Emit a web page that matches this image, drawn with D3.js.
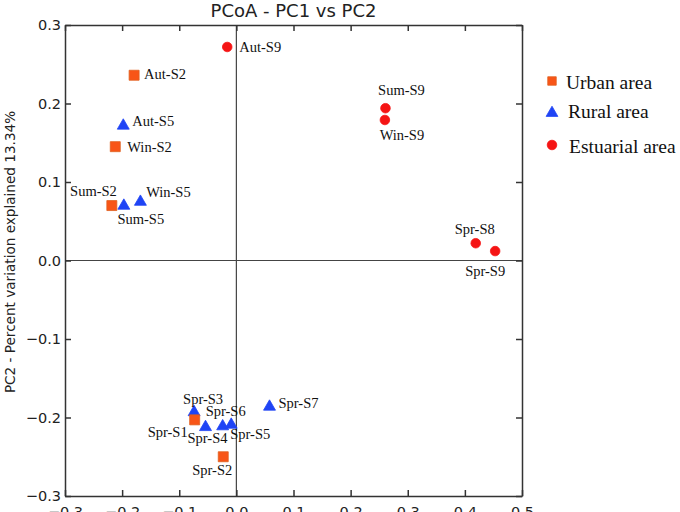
<!DOCTYPE html>
<html>
<head>
<meta charset="utf-8">
<script src="https://cdn.jsdelivr.net/npm/d3@7"></script>
<style>
  html, body { margin: 0; padding: 0; background: #fff; }
  svg { display: block; }
</style>
</head>
<body>
<div id="chart"></div>
<script>
// ---- data ----
const sampleNames = ["Aut-S9","Aut-S2","Aut-S5","Win-S2","Sum-S2","Sum-S5","Win-S5",
  "Sum-S9","Win-S9","Spr-S8","Spr-S9",
  "Spr-S3","Spr-S1","Spr-S4","Spr-S6","Spr-S5","Spr-S2","Spr-S7"];
const sampleGroups = ["Estuarial area","Urban area","Rural area","Urban area","Urban area","Rural area","Rural area",
  "Estuarial area","Estuarial area","Estuarial area","Estuarial area",
  "Rural area","Urban area","Rural area","Rural area","Rural area","Urban area","Rural area"];
const pc1Values = [-0.016,-0.179,-0.198,-0.212,-0.218,-0.197,-0.168,
  0.261,0.260,0.419,0.453,
  -0.074,-0.073,-0.054,-0.024,-0.009,-0.023,0.058];
const pc2Values = [0.272,0.236,0.173,0.145,0.070,0.071,0.076,
  0.194,0.179,0.022,0.012,
  -0.192,-0.203,-0.211,-0.210,-0.208,-0.250,-0.185];
const groupNames = ["Urban area","Rural area","Estuarial area"];
const xTicks = [-0.3,-0.2,-0.1,0.0,0.1,0.2,0.3,0.4,0.5];
const yTicks = [-0.3,-0.2,-0.1,0.0,0.1,0.2,0.3];
const titleText = "PCoA - PC1 vs PC2";
const yTitleText = "PC2 - Percent variation explained 13.34%";

// ---- label placement (layout, pixels relative to point) ----
const labelLayout = {
  "Aut-S9": [12, 0, "start"], "Aut-S2": [10, -1, "start"], "Aut-S5": [9, -4, "start"],
  "Win-S2": [12, 0, "start"], "Sum-S2": [5, -15, "end"], "Sum-S5": [17, 14, "middle"],
  "Win-S5": [28, -9, "middle"], "Sum-S9": [16, -18, "middle"], "Win-S9": [17, 15, "middle"],
  "Spr-S8": [-1, -14, "middle"], "Spr-S9": [-10, 20, "middle"], "Spr-S3": [9, -12, "middle"],
  "Spr-S1": [-7, 12, "end"], "Spr-S4": [2, 12, "middle"], "Spr-S6": [3, -14, "middle"],
  "Spr-S5": [-1, 10, "start"], "Spr-S2": [-11, 13, "middle"], "Spr-S7": [9, -3, "start"]
};

const W = 680, H = 512;
const svg = d3.select("#chart").append("svg").attr("width", W).attr("height", H);

const x = d3.scaleLinear().domain([-0.3, 0.5]).range([65, 522]);
const y = d3.scaleLinear().domain([-0.3, 0.3]).range([496, 25]);

const colors = { "Urban area": "#f85517", "Rural area": "#1f44f5", "Estuarial area": "#f51414" };
const strokes = { "Urban area": "#e0611f", "Rural area": "#1f44f5", "Estuarial area": "#f51414" };
const shapes = { "Urban area": d3.symbolSquare, "Rural area": d3.symbolTriangle, "Estuarial area": d3.symbolCircle };
const sizes = { "Urban area": 100, "Rural area": 62, "Estuarial area": 72 };

const sans = "'DejaVu Sans', sans-serif";
const serif = "'Liberation Serif', 'Times New Roman', serif";
const fmt = v => (v < 0 ? "\u2212" : "") + Math.abs(v).toFixed(1);

// zero lines
svg.append("line").attr("x1", x(0)).attr("x2", x(0)).attr("y1", y(0.3)).attr("y2", y(-0.3))
  .attr("stroke", "#444").attr("stroke-width", 1.2);
svg.append("line").attr("x1", x(-0.3)).attr("x2", x(0.5)).attr("y1", y(0)).attr("y2", y(0))
  .attr("stroke", "#444").attr("stroke-width", 1.2);

// axes (ticks inward on all sides)
const axisColor = "#333";
function styleAxis(g) {
  g.select(".domain").attr("stroke", axisColor).attr("stroke-width", 1.5);
  g.selectAll(".tick line").attr("stroke", axisColor).attr("stroke-width", 1.5);
}
const axB = svg.append("g").attr("transform", `translate(0,${y(-0.3)})`)
  .call(d3.axisBottom(x).tickValues(xTicks).tickSizeInner(-6).tickSizeOuter(0).tickPadding(11).tickFormat(fmt));
styleAxis(axB);
axB.selectAll("text").attr("font-family", sans).attr("font-size", 14.5).attr("fill", "#222");

const axT = svg.append("g").attr("transform", `translate(0,${y(0.3)})`)
  .call(d3.axisTop(x).tickValues(xTicks).tickSizeInner(-6).tickSizeOuter(0).tickFormat(""));
styleAxis(axT);

const axL = svg.append("g").attr("transform", `translate(${x(-0.3)},0)`)
  .call(d3.axisLeft(y).tickValues(yTicks).tickSizeInner(-6).tickSizeOuter(0).tickPadding(4).tickFormat(fmt));
styleAxis(axL);
axL.selectAll("text").attr("font-family", sans).attr("font-size", 14.5).attr("fill", "#222");

const axR = svg.append("g").attr("transform", `translate(${x(0.5)},0)`)
  .call(d3.axisRight(y).tickValues(yTicks).tickSizeInner(-6).tickSizeOuter(0).tickFormat(""));
styleAxis(axR);

// title
svg.append("text").attr("x", (x(-0.3) + x(0.5)) / 2).attr("y", 17)
  .attr("text-anchor", "middle").attr("font-family", sans).attr("font-size", 18).attr("fill", "#222")
  .text(titleText);

// y title
svg.append("text").attr("transform", `translate(15,${252}) rotate(-90)`)
  .attr("text-anchor", "middle").attr("font-family", sans).attr("font-size", 13.6).attr("fill", "#222")
  .text(yTitleText);

// points
const pts = sampleNames.map((n, i) => ({ name: n, group: sampleGroups[i], px: pc1Values[i], py: pc2Values[i] }));
svg.append("g").selectAll("path").data(pts).join("path")
  .attr("transform", d => `translate(${x(d.px)},${y(d.py) + (d.group === "Rural area" ? 1 : 0)})`)
  .attr("d", d => d3.symbol(shapes[d.group], sizes[d.group])())
  .attr("fill", d => colors[d.group])
  .attr("stroke", d => strokes[d.group]).attr("stroke-width", 0.8);

// labels
svg.append("g").selectAll("text").data(pts).join("text")
  .attr("x", d => x(d.px) + labelLayout[d.name][0])
  .attr("y", d => y(d.py) + labelLayout[d.name][1])
  .attr("dy", "0.35em")
  .attr("text-anchor", d => labelLayout[d.name][2])
  .attr("font-family", serif).attr("font-size", 14.5).attr("fill", "#111")
  .text(d => d.name);

// legend
const legend = svg.append("g").attr("transform", "translate(552,81)");
const li = legend.selectAll("g").data(groupNames).join("g")
  .attr("transform", (d, i) => `translate(0,${[0, 32, 64][i]})`);
li.append("path")
  .attr("d", d => d3.symbol(shapes[d], d === "Urban area" ? 72 : (d === "Rural area" ? 60 : 72))())
  .attr("fill", d => colors[d]).attr("stroke", d => strokes[d]).attr("stroke-width", 0.8);
li.append("text").attr("x", (d, i) => [14, 16, 17][i]).attr("y", (d, i) => [1, -2, 1][i])
  .attr("dy", "0.35em").attr("font-family", serif).attr("font-size", 19.5).attr("fill", "#111")
  .text(d => d);
</script>
</body>
</html>
